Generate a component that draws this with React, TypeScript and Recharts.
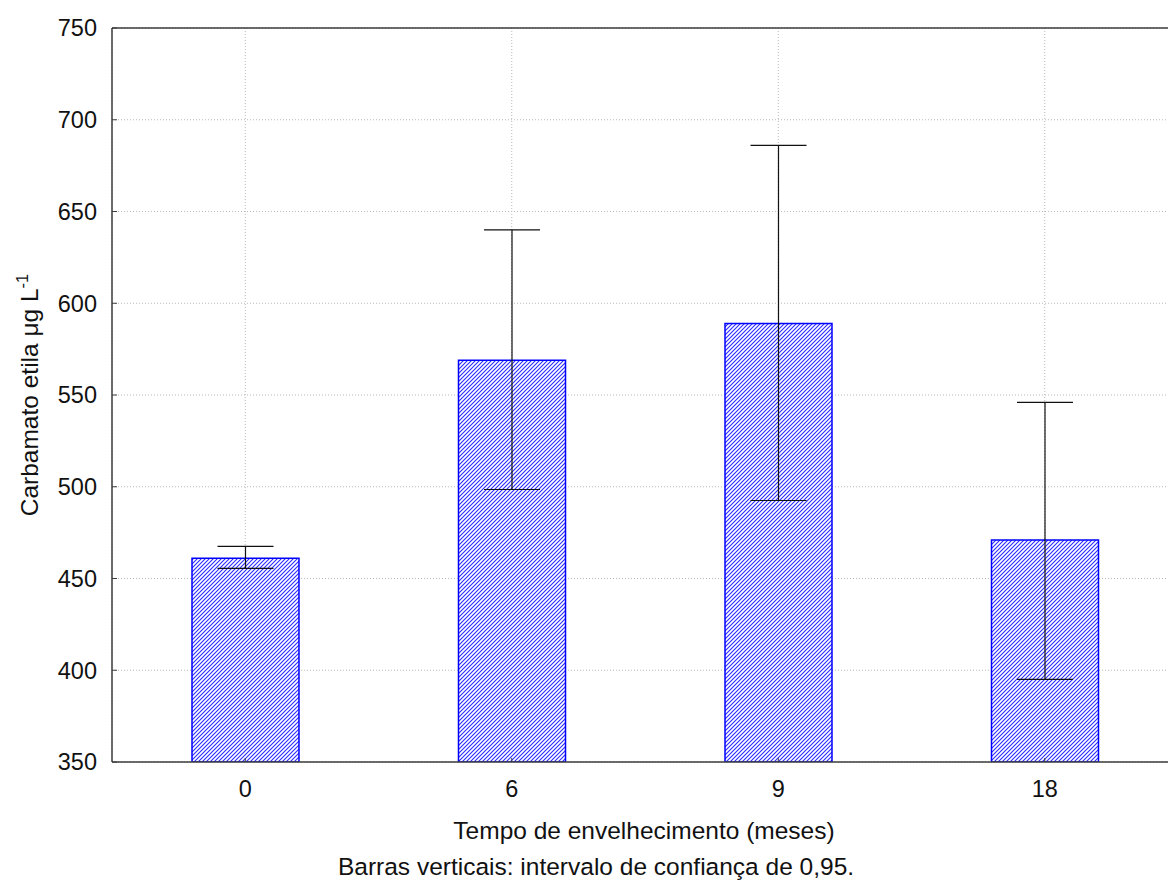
import React from "react";
import {
  Bar,
  BarChart,
  CartesianGrid,
  ErrorBar,
  Label,
  ReferenceLine,
  XAxis,
  YAxis,
} from "recharts";

const months = ["0", "6", "9", "18"];
const means = [461, 569, 589, 471];
const ciLower = [455.5, 498.5, 492.5, 395];
const ciUpper = [467.5, 640, 686, 546];
const yTicks = [350, 400, 450, 500, 550, 600, 650, 700, 750];

const FONT = "'Liberation Sans', Arial, sans-serif";
const AXIS = "#3c3c3c";

type Datum = { month: string; mean: number; err: [number, number] };

const data: Datum[] = months.map((m, i) => ({
  month: m,
  mean: means[i],
  err: [means[i] - ciLower[i], ciUpper[i] - means[i]],
}));

function YTick(props: any) {
  const { x, y, payload } = props;
  return (
    <g>
      <line x1={x} x2={x + 5} y1={y} y2={y} stroke={AXIS} strokeWidth={1} />
      <text
        x={x - 15}
        y={y}
        dy="0.36em"
        textAnchor="end"
        fontFamily={FONT}
        fontSize={23.5}
        fill="#111"
      >
        {payload.value}
      </text>
    </g>
  );
}

function XTick(props: any) {
  const { x, y, payload } = props;
  return (
    <g>
      <line x1={x} x2={x} y1={y} y2={y - 4} stroke={AXIS} strokeWidth={1} />
      <text
        x={x}
        y={y + 35}
        textAnchor="middle"
        fontFamily={FONT}
        fontSize={23.5}
        fill="#111"
      >
        {payload.value}
      </text>
    </g>
  );
}

function YLabel(props: any) {
  const vb = props.viewBox;
  const cx = vb.x + 38;
  const cy = vb.y + vb.height / 2;
  return (
    <text
      x={cx}
      y={cy}
      transform={`rotate(-90 ${cx} ${cy})`}
      textAnchor="middle"
      fontFamily={FONT}
      fontSize={24.5}
      fill="#111"
    >
      Carbamato etila μg L
      <tspan dy={-10} fontSize={16.5}>-1</tspan>
    </text>
  );
}

// x label and footnote sit at fixed offsets from the plot's left edge
function XLabel(props: any) {
  const vb = props.viewBox;
  return (
    <g fontFamily={FONT} fill="#111">
      <text x={vb.x + 532} y={vb.y + 77} textAnchor="middle" fontSize={24.5}>
        Tempo de envelhecimento (meses)
      </text>
      <text x={vb.x + 484} y={vb.y + 113} textAnchor="middle" fontSize={24.5}>
        Barras verticais: intervalo de confiança de 0,95.
      </text>
    </g>
  );
}

export default function App() {
  return (
    <div
      style={{
        position: "absolute",
        left: 0,
        top: 0,
        width: 1168,
        height: 889,
        overflow: "hidden",
        background: "#fff",
      }}
    >
      <BarChart
        width={1168}
        height={889}
        data={data}
        margin={{ top: 28, right: -10, bottom: 0, left: 0 }}
      >
        <defs>
          <pattern
            id="hatch"
            width={4}
            height={4}
            patternUnits="userSpaceOnUse"
          >
            <rect width={4} height={4} fill="#fff" />
            <path
              d="M-1,1 l2,-2 M0,4 l4,-4 M3,5 l2,-2"
              stroke="#2a2aff"
              strokeWidth={1.1}
            />
          </pattern>
        </defs>
        <CartesianGrid stroke="#b8b8b8" strokeDasharray="1 2" />
        <XAxis
          dataKey="month"
          height={127}
          tickSize={0}
          tickMargin={0}
          tickLine={false}
          axisLine={{ stroke: AXIS, strokeWidth: 1.5 }}
          tick={<XTick />}
          interval={0}
        >
          <Label content={<XLabel />} />
        </XAxis>
        <YAxis
          width={112}
          domain={[350, 750]}
          ticks={yTicks}
          tickSize={0}
          tickMargin={0}
          tickLine={false}
          axisLine={{ stroke: AXIS, strokeWidth: 1.5 }}
          tick={<YTick />}
          allowDataOverflow
        >
          <Label content={<YLabel />} />
        </YAxis>
        <ReferenceLine y={750} stroke={AXIS} strokeWidth={1.5} />
        <Bar
          dataKey="mean"
          barSize={107}
          fill="url(#hatch)"
          stroke="#0000ff"
          strokeWidth={1.5}
          isAnimationActive={false}
        >
          <ErrorBar
            dataKey="err"
            width={28}
            stroke="#111"
            strokeWidth={1.2}
            isAnimationActive={false}
          />
        </Bar>
      </BarChart>
    </div>
  );
}
